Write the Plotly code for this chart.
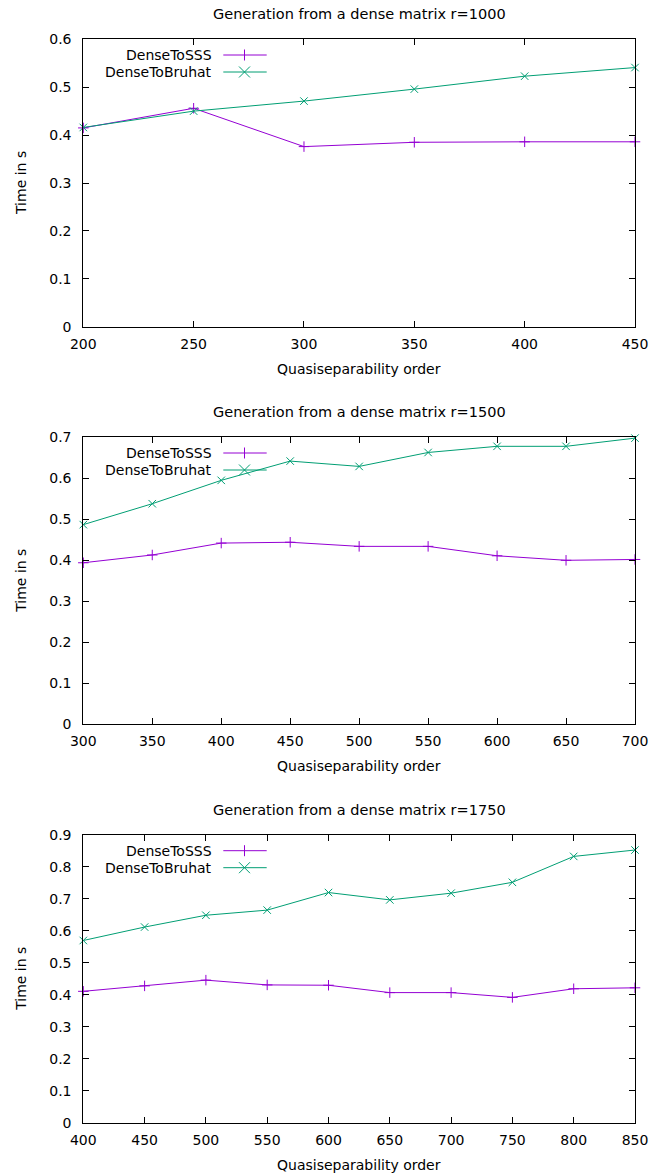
import plotly.graph_objects as go
from plotly.subplots import make_subplots

W, H = 662, 1175

titles = ["Generation from a dense matrix r=1000",
          "Generation from a dense matrix r=1500",
          "Generation from a dense matrix r=1750"]

x1 = [200, 250, 300, 350, 400, 450]
sss1 = [0.415, 0.456, 0.376, 0.385, 0.386, 0.386]
bru1 = [0.416, 0.450, 0.471, 0.496, 0.523, 0.541]

x2 = [300, 350, 400, 450, 500, 550, 600, 650, 700]
sss2 = [0.394, 0.413, 0.442, 0.444, 0.434, 0.434, 0.411, 0.400, 0.402]
bru2 = [0.487, 0.538, 0.595, 0.642, 0.629, 0.663, 0.678, 0.678, 0.698]

x3 = [400, 450, 500, 550, 600, 650, 700, 750, 800, 850]
sss3 = [0.411, 0.428, 0.446, 0.431, 0.430, 0.407, 0.407, 0.392, 0.419, 0.422]
bru3 = [0.570, 0.612, 0.649, 0.665, 0.720, 0.697, 0.718, 0.752, 0.833, 0.853]

xranges = [[200, 450], [300, 700], [400, 850]]
yranges = [[0, 0.6], [0, 0.7], [0, 0.9]]
series_names = ["DenseToSSS", "DenseToBruhat"]

PURPLE = "#9400d3"
GREEN = "#009e73"
FONT = "DejaVu Sans"
FS = 14

# page body margin is removed by post_script, so figure pixels = page pixels
OFF = 0.0

# pixel geometry of each panel's plot area (top, bottom)
panels_px = [(39.3, 326.7), (437.3, 724.3), (835.0, 1122.7)]
left_px, right_px = 83.3, 635.0

fig = make_subplots(rows=3, cols=1)

data = [(x1, sss1, bru1), (x2, sss2, bru2), (x3, sss3, bru3)]

def px_x(p):
    return (p - OFF) / W

def px_y(p):
    return 1 - (p - OFF) / H

shapes = []
annotations = []
for i, (xs, s, b) in enumerate(data):
    r = i + 1
    fig.add_trace(go.Scatter(x=xs, y=s, mode="lines+markers", name=series_names[0],
                             line=dict(color=PURPLE, width=1),
                             marker=dict(symbol="cross-thin", size=7.5,
                                         line=dict(color=PURPLE, width=1)),
                             cliponaxis=False, showlegend=False), row=r, col=1)
    fig.add_trace(go.Scatter(x=xs, y=b, mode="lines+markers", name=series_names[1],
                             line=dict(color=GREEN, width=1),
                             marker=dict(symbol="x-thin", size=7.5,
                                         line=dict(color=GREEN, width=1)),
                             cliponaxis=False, showlegend=False), row=r, col=1)
    top, bot = panels_px[i]
    xa = "xaxis" if r == 1 else f"xaxis{r}"
    ya = "yaxis" if r == 1 else f"yaxis{r}"
    fig.layout[xa].update(domain=[px_x(left_px), px_x(right_px)],
                          range=xranges[i], dtick=50, tick0=0,
                          ticks="inside", ticklen=6, tickcolor="black",
                          showline=True, linecolor="black", linewidth=1,
                          mirror="allticks", showgrid=False, zeroline=False,
                          automargin=False,
                          tickfont=dict(family=FONT, size=FS, color="black"),
                          ticklabelstandoff=4)
    fig.layout[ya].update(domain=[px_y(bot), px_y(top)],
                          range=yranges[i], dtick=0.1, tick0=0,
                          ticks="inside", ticklen=6, tickcolor="black",
                          showline=True, linecolor="black", linewidth=1,
                          mirror="allticks", showgrid=False, zeroline=False,
                          automargin=False,
                          tickfont=dict(family=FONT, size=FS, color="black"),
                          ticklabelstandoff=8)
    cx = (left_px + right_px) / 2
    annotations.append(dict(text=titles[i], x=px_x(cx), y=px_y(top - 25),
                            xref="paper", yref="paper", showarrow=False,
                            xanchor="center", yanchor="middle",
                            font=dict(family=FONT, size=14.5, color="black")))
    annotations.append(dict(text="Quasiseparability order", x=px_x(cx), y=px_y(bot + 42),
                            xref="paper", yref="paper", showarrow=False,
                            xanchor="center", yanchor="middle",
                            font=dict(family=FONT, size=FS, color="black")))
    annotations.append(dict(text="Time in s", x=px_x(21), y=px_y((top + bot) / 2),
                            xref="paper", yref="paper", showarrow=False, textangle=-90,
                            xanchor="center", yanchor="middle",
                            font=dict(family=FONT, size=FS, color="black")))
    # legend (gnuplot style: right-aligned text, then sample)
    for k, (name, col, sym) in enumerate([(series_names[0], PURPLE, "+"),
                                          (series_names[1], GREEN, "x")]):
        yy = top + 15.7 + k * 17.0
        annotations.append(dict(text=name, x=px_x(213.5), y=px_y(yy),
                                xref="paper", yref="paper", showarrow=False,
                                xanchor="right", yanchor="middle",
                                font=dict(family=FONT, size=FS, color="black")))
        shapes.append(dict(type="line", xref="paper", yref="paper",
                           x0=px_x(223.3), x1=px_x(266.7), y0=px_y(yy), y1=px_y(yy),
                           line=dict(color=col, width=1)))
        mx, m = 244.5, 5.5
        if sym == "+":
            shapes.append(dict(type="line", xref="paper", yref="paper",
                               x0=px_x(mx), x1=px_x(mx), y0=px_y(yy - m), y1=px_y(yy + m),
                               line=dict(color=col, width=1)))
        else:
            shapes.append(dict(type="line", xref="paper", yref="paper",
                               x0=px_x(mx - m), x1=px_x(mx + m), y0=px_y(yy - m), y1=px_y(yy + m),
                               line=dict(color=col, width=1)))
            shapes.append(dict(type="line", xref="paper", yref="paper",
                               x0=px_x(mx - m), x1=px_x(mx + m), y0=px_y(yy + m), y1=px_y(yy - m),
                               line=dict(color=col, width=1)))

fig.update_layout(width=W, height=H,
                  margin=dict(l=0, r=0, t=0, b=0, pad=0, autoexpand=False),
                  plot_bgcolor="white", paper_bgcolor="white",
                  shapes=shapes, annotations=annotations, showlegend=False,
                  hovermode=False,
                  font=dict(family=FONT, size=FS, color="black"))

fig.write_html("out.html",
               config={"displayModeBar": False, "staticPlot": True},
               post_script="document.body.style.margin='0px';"
                           "document.body.style.padding='0px';"
                           "document.body.style.overflow='hidden';")
